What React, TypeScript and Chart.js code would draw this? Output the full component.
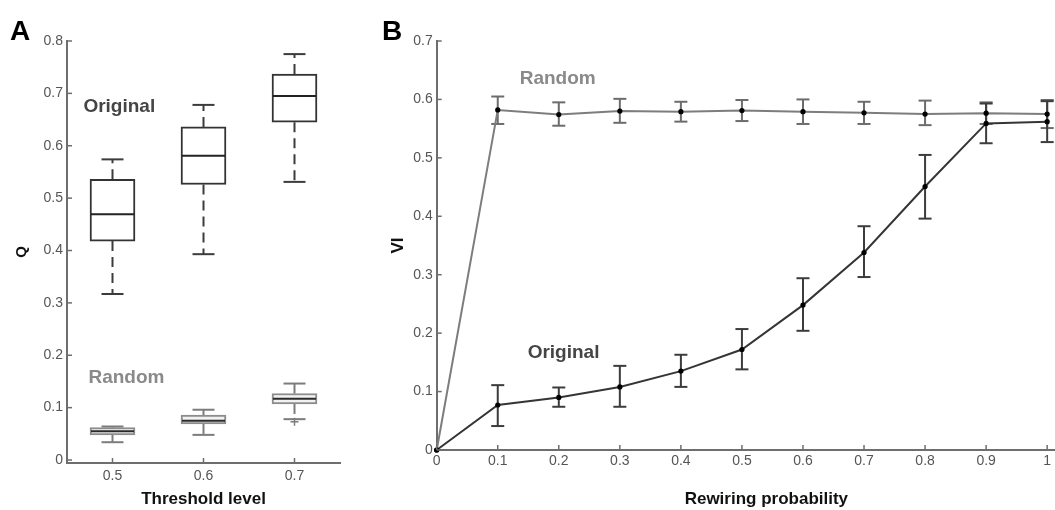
import React, { useEffect, useRef } from "react";
import { Chart, registerables } from "chart.js";

Chart.register(...registerables);

// ---------- Panel A data (box plots) ----------
const thresholdLevels = [0.5, 0.6, 0.7];
const qTicks = [0, 0.1, 0.2, 0.3, 0.4, 0.5, 0.6, 0.7, 0.8];

const origWhiskerLo = [0.317, 0.393, 0.531];
const origQ1 = [0.418, 0.526, 0.645];
const origMedian = [0.469, 0.581, 0.695];
const origQ3 = [0.536, 0.636, 0.737];
const origWhiskerHi = [0.574, 0.678, 0.775];

const randWhiskerLo = [0.034, 0.048, 0.078];
const randQ1 = [0.048, 0.069, 0.107];
const randMedian = [0.055, 0.075, 0.117];
const randQ3 = [0.062, 0.086, 0.127];
const randWhiskerHi = [0.064, 0.096, 0.146];
const randOutlierX = [0.7];
const randOutlierY = [0.073];

// ---------- Panel B data (line + error bars) ----------
const rewiringProb = [0, 0.1, 0.2, 0.3, 0.4, 0.5, 0.6, 0.7, 0.8, 0.9, 1.0];
const viTicks = [0, 0.1, 0.2, 0.3, 0.4, 0.5, 0.6, 0.7];

const randomVI = [0, 0.582, 0.574, 0.58, 0.579, 0.581, 0.579, 0.577, 0.575, 0.5765, 0.575];
const randomLo = [null, 0.558, 0.555, 0.56, 0.562, 0.563, 0.558, 0.558, 0.556, 0.558, 0.551];
const randomHi = [null, 0.605, 0.595, 0.601, 0.596, 0.599, 0.6, 0.596, 0.598, 0.595, 0.599];

const originalVI = [0, 0.077, 0.09, 0.108, 0.135, 0.172, 0.248, 0.338, 0.451, 0.559, 0.562];
const originalLo = [null, 0.041, 0.074, 0.074, 0.108, 0.138, 0.204, 0.296, 0.396, 0.525, 0.527];
const originalHi = [null, 0.111, 0.107, 0.144, 0.163, 0.207, 0.294, 0.383, 0.505, 0.593, 0.597];

const FONT = "'Liberation Sans', Arial, Helvetica, sans-serif";
const AXIS_COLOR = "#6e6e6e";
const TICK_COLOR = "#555";

const fmt = (v: number) => String(+Number(v).toFixed(2));

function line(ctx: CanvasRenderingContext2D, x1: number, y1: number, x2: number, y2: number) {
  ctx.beginPath();
  ctx.moveTo(x1, y1);
  ctx.lineTo(x2, y2);
  ctx.stroke();
}

const inwardTicks = {
  id: "inwardTicks",
  afterDraw(chart: any) {
    const { ctx, chartArea, scales } = chart;
    ctx.save();
    ctx.strokeStyle = AXIS_COLOR;
    ctx.lineWidth = 1.5;
    scales.x.ticks.forEach((t: any) => {
      const px = scales.x.getPixelForValue(t.value);
      line(ctx, px, chartArea.bottom, px, chartArea.bottom - 5);
    });
    scales.y.ticks.forEach((t: any) => {
      const py = scales.y.getPixelForValue(t.value);
      line(ctx, chartArea.left, py, chartArea.left + 5, py);
    });
    ctx.restore();
  },
};

type Label = { text: string; x: number; y: number; color: string; font: string; data: boolean };

function textPlugin(id: string, labels: Label[]) {
  return {
    id,
    afterDraw(chart: any) {
      const { ctx, scales } = chart;
      ctx.save();
      ctx.textAlign = "left";
      ctx.textBaseline = "alphabetic";
      labels.forEach((l) => {
        const px = l.data ? scales.x.getPixelForValue(l.x) : l.x;
        const py = l.data ? scales.y.getPixelForValue(l.y) : l.y;
        ctx.font = l.font;
        ctx.fillStyle = l.color;
        ctx.fillText(l.text, px, py);
      });
      ctx.restore();
    },
  };
}

const boxPlugin = {
  id: "boxWhiskers",
  afterDatasetsDraw(chart: any) {
    const { ctx, scales } = chart;
    const x = scales.x;
    const y = scales.y;
    const groups = [
      { lo: origWhiskerLo, q1: origQ1, med: origMedian, q3: origQ3, hi: origWhiskerHi, whisker: "#3c3c3c", med2: "#222" },
      { lo: randWhiskerLo, q1: randQ1, med: randMedian, q3: randQ3, hi: randWhiskerHi, whisker: "#7c7c7c", med2: "#2a2a2a" },
    ];
    const half = 21.5;
    const capHalf = 11;
    ctx.save();
    groups.forEach((g) => {
      thresholdLevels.forEach((lvl, i) => {
        const cx = x.getPixelForValue(lvl);
        ctx.strokeStyle = g.whisker;
        ctx.lineWidth = 2;
        ctx.setLineDash([10, 6]);
        line(ctx, cx, y.getPixelForValue(g.q3[i]), cx, y.getPixelForValue(g.hi[i]));
        line(ctx, cx, y.getPixelForValue(g.q1[i]), cx, y.getPixelForValue(g.lo[i]));
        ctx.setLineDash([]);
        line(ctx, cx - capHalf, y.getPixelForValue(g.hi[i]), cx + capHalf, y.getPixelForValue(g.hi[i]));
        line(ctx, cx - capHalf, y.getPixelForValue(g.lo[i]), cx + capHalf, y.getPixelForValue(g.lo[i]));
        ctx.strokeStyle = g.med2;
        line(ctx, cx - half, y.getPixelForValue(g.med[i]), cx + half, y.getPixelForValue(g.med[i]));
      });
    });
    ctx.strokeStyle = "#7c7c7c";
    ctx.lineWidth = 1.5;
    randOutlierX.forEach((ox, i) => {
      const px = x.getPixelForValue(ox);
      const py = y.getPixelForValue(randOutlierY[i]);
      line(ctx, px - 4, py, px + 4, py);
      line(ctx, px, py - 4, px, py + 4);
    });
    ctx.restore();
  },
};

const errorBarPlugin = {
  id: "errorBars",
  beforeDatasetsDraw(chart: any) {
    const { ctx, scales } = chart;
    const x = scales.x;
    const y = scales.y;
    const sets = [
      { lo: randomLo, hi: randomHi, color: "#6c6c6c" },
      { lo: originalLo, hi: originalHi, color: "#3c3c3c" },
    ];
    ctx.save();
    ctx.lineWidth = 2;
    sets.forEach((s) => {
      ctx.strokeStyle = s.color;
      rewiringProb.forEach((p, i) => {
        const lo = s.lo[i];
        const hi = s.hi[i];
        if (lo == null || hi == null) return;
        const px = x.getPixelForValue(p);
        const pl = y.getPixelForValue(lo);
        const ph = y.getPixelForValue(hi);
        line(ctx, px, pl, px, ph);
        line(ctx, px - 6.5, pl, px + 6.5, pl);
        line(ctx, px - 6.5, ph, px + 6.5, ph);
      });
    });
    ctx.restore();
  },
};

const tickFont = { family: FONT, size: 14 };

export default function App() {
  const refA = useRef<HTMLCanvasElement>(null);
  const refB = useRef<HTMLCanvasElement>(null);

  useEffect(() => {
    Chart.defaults.font.family = FONT;

    const chartA = new Chart(refA.current as HTMLCanvasElement, {
      type: "bar",
      data: {
        datasets: [
          {
            label: "Original",
            data: thresholdLevels.map((lvl, i) => ({ x: lvl, y: [origQ1[i], origQ3[i]] })) as any,
            backgroundColor: "#ffffff",
            borderColor: "#333333",
            borderWidth: 2,
            borderSkipped: false,
            barThickness: 45,
            stack: "box",
          },
          {
            label: "Random",
            data: thresholdLevels.map((lvl, i) => ({ x: lvl, y: [randQ1[i], randQ3[i]] })) as any,
            backgroundColor: "#f2f2f2",
            borderColor: "#8c8c8c",
            borderWidth: 2,
            borderSkipped: false,
            barThickness: 45,
            stack: "box",
          },
        ],
      },
      options: {
        responsive: false,
        animation: false,
        devicePixelRatio: 1,
        layout: { padding: { top: 41, right: 20, left: 0, bottom: 0 } },
        plugins: { legend: { display: false }, tooltip: { enabled: false } },
        scales: {
          x: {
            type: "linear",
            min: 0.45,
            max: 0.75,
            offset: false,
            grid: { display: false, drawTicks: false, offset: false },
            border: { display: true, color: AXIS_COLOR, width: 2 },
            ticks: { font: tickFont, color: TICK_COLOR, padding: 5, maxRotation: 0, callback: (v: any) => fmt(v) },
            title: { display: true, text: "Threshold level", color: "#111", font: { family: FONT, size: 17, weight: "bold" }, padding: { top: 0, bottom: 0 } },
            afterBuildTicks: (s: any) => {
              s.ticks = thresholdLevels.map((v) => ({ value: v }));
            },
            afterFit: (s: any) => {
              s.height = 47;
            },
          } as any,
          y: {
            type: "linear",
            min: -0.0057,
            max: 0.8,
            stacked: false,
            grid: { display: false, drawTicks: false },
            border: { display: true, color: AXIS_COLOR, width: 2 },
            ticks: { font: tickFont, color: TICK_COLOR, padding: 4, callback: (v: any) => fmt(v) },
            title: { display: true, text: "Q", color: "#111", font: { family: FONT, size: 15, weight: "bold" }, padding: { top: 13, bottom: 0 } },
            afterBuildTicks: (s: any) => {
              s.ticks = qTicks.map((v) => ({ value: v }));
            },
            afterFit: (s: any) => {
              s.width = 67;
            },
          } as any,
        },
      },
      plugins: [
        boxPlugin,
        inwardTicks,
        textPlugin("textA", [
          { text: "A", x: 10, y: 40, color: "#000", font: `bold 28px ${FONT}`, data: false },
          { text: "Original", x: 0.468, y: 0.664, color: "#454545", font: `bold 19px ${FONT}`, data: true },
          { text: "Random", x: 0.4736, y: 0.147, color: "#8a8a8a", font: `bold 19px ${FONT}`, data: true },
        ]),
      ],
    } as any);

    const chartB = new Chart(refB.current as HTMLCanvasElement, {
      type: "line",
      data: {
        datasets: [
          {
            label: "Original",
            data: rewiringProb.map((p, i) => ({ x: p, y: originalVI[i] })),
            borderColor: "#353535",
            borderWidth: 2,
            pointRadius: 2.6,
            pointBackgroundColor: "#000",
            pointBorderWidth: 0,
            clip: false,
          },
          {
            label: "Random",
            data: rewiringProb.map((p, i) => ({ x: p, y: randomVI[i] })),
            borderColor: "#7d7d7d",
            borderWidth: 2,
            pointRadius: 2.6,
            pointBackgroundColor: "#000",
            pointBorderWidth: 0,
            clip: false,
          },
        ],
      },
      options: {
        responsive: false,
        animation: false,
        devicePixelRatio: 1,
        layout: { padding: { top: 41, right: 1, left: 0, bottom: 0 } },
        plugins: { legend: { display: false }, tooltip: { enabled: false } },
        scales: {
          x: {
            type: "linear",
            min: 0,
            max: 1.08,
            grid: { display: false, drawTicks: false },
            border: { display: true, color: AXIS_COLOR, width: 2 },
            ticks: { font: tickFont, color: TICK_COLOR, padding: 3, maxRotation: 0, callback: (v: any) => fmt(v) },
            title: { display: true, text: "Rewiring probability", color: "#111", font: { family: FONT, size: 17, weight: "bold" }, padding: { top: 0, bottom: 0 } },
            afterBuildTicks: (s: any) => {
              s.ticks = rewiringProb.map((v) => ({ value: v }));
            },
            afterFit: (s: any) => {
              s.height = 60;
            },
          } as any,
          y: {
            type: "linear",
            min: 0,
            max: 0.7,
            grid: { display: false, drawTicks: false },
            border: { display: true, color: AXIS_COLOR, width: 2 },
            ticks: { font: tickFont, color: TICK_COLOR, padding: 4, callback: (v: any) => fmt(v) },
            title: { display: true, text: "VI", color: "#111", font: { family: FONT, size: 17, weight: "bold" }, padding: { top: 28, bottom: 0 } },
            afterBuildTicks: (s: any) => {
              s.ticks = viTicks.map((v) => ({ value: v }));
            },
            afterFit: (s: any) => {
              s.width = 76.7;
            },
          } as any,
        },
      },
      plugins: [
        errorBarPlugin,
        inwardTicks,
        textPlugin("textB", [
          { text: "B", x: 22, y: 40, color: "#000", font: `bold 28px ${FONT}`, data: false },
          { text: "Random", x: 0.136, y: 0.626, color: "#8a8a8a", font: `bold 19px ${FONT}`, data: true },
          { text: "Original", x: 0.149, y: 0.1575, color: "#454545", font: `bold 19px ${FONT}`, data: true },
        ]),
      ],
    } as any);

    return () => {
      chartA.destroy();
      chartB.destroy();
    };
  }, []);

  return (
    <div style={{ position: "absolute", left: 0, top: 0, width: 1055, height: 510, overflow: "hidden", background: "#fff" }}>
      <canvas ref={refA} width={360} height={510} style={{ position: "absolute", left: 0, top: 0 }} />
      <canvas ref={refB} width={740} height={510} style={{ position: "absolute", left: 360, top: 0 }} />
    </div>
  );
}
